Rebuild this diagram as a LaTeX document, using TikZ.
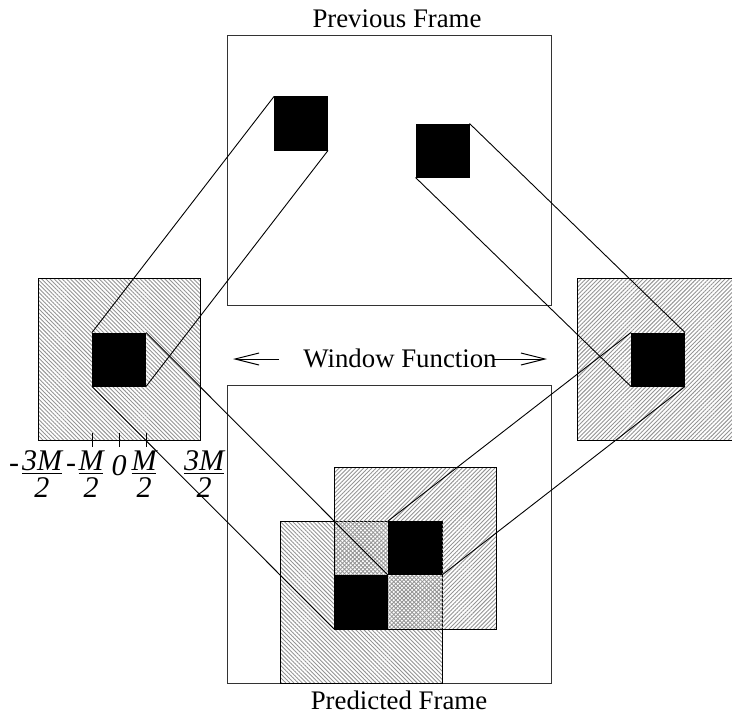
\documentclass[tikz,border=0pt]{standalone}
\usepackage{fontspec}
\setmainfont{Liberation Serif}
\usetikzlibrary{patterns.meta,arrows.meta}
\tikzset{
  frame/.style={draw=black!80, line width=0.5pt, inner sep=0pt, outer sep=0pt},
  blk/.style={fill=black, inner sep=0pt, outer sep=0pt, minimum size=27pt},
  winNW/.style={draw, line width=0.5pt, inner sep=0pt, outer sep=0pt, minimum size=81pt,
    pattern={Lines[angle=-45,distance=1.45pt,line width=0.45pt]}, pattern color=black!42},
  winNE/.style={draw, line width=0.5pt, inner sep=0pt, outer sep=0pt, minimum size=81pt,
    pattern={Lines[angle=45,distance=1.45pt,line width=0.45pt]}, pattern color=black!42},
  axlbl/.style={font=\fontsize{15}{16}\selectfont\itshape, inner sep=0pt, align=center},
  link/.style={line width=0.45pt},
  wfarrow/.style={-{Straight Barb[length=12pt,width=6pt]}, line width=0.5pt},
}
\newcommand\halffrac[1]{\underline{#1}\\[-2.5pt]2}
\begin{document}
\begin{tikzpicture}[x=0.5pt, y=-0.5pt, font=\fontsize{13.4}{16}\selectfont]
  \useasboundingbox (0,0) rectangle (732,717);
  \clip (0,0) rectangle (732,717);

  % Frames
  \node[frame, minimum width=162pt, minimum height=134.5pt] (prev) at (389,170.5) {};
  \node[frame, minimum width=162pt, minimum height=149pt] (pred) at (389,534) {};
  \node[anchor=base] (prevlbl) at (397,28) {Previous Frame};
  \node[anchor=base] (predlbl) at (399,709) {Predicted Frame};

  % Blocks of the previous frame
  \node[blk] (w1) at (301,123.5) {};
  \node[blk] (w2) at (442.5,150.5) {};

  % Windowed blocks
  \node[winNW] (winL) at (119,359) {};
  \node[blk] (sL) at (119,359.5) {};
  \node[winNE] (winR) at (658,359) {};
  \node[blk] (sR) at (658,359.5) {};

  % Overlapping windows in the predicted frame
  \node[winNW] (winB) at (361.5,602) {};
  \node[winNE] (winA) at (415.5,548) {};
  \node[blk] (pB) at (361,602) {};
  \node[blk] (pA) at (415,548) {};

  % Axis of the window
  \foreach \x in {92,119,146}
    \draw[line width=0.5pt] (\x,433) -- (\x,447);
  \node[axlbl] (lm3s) at (14,468) {-};
  \node[axlbl] (lm3) at (42,474) {\halffrac{3M}};
  \node[axlbl] (lm1s) at (71,468) {-};
  \node[axlbl] (lm1) at (91,474) {\halffrac{M}};
  \node[axlbl] (l0) at (119,466) {0};
  \node[axlbl] (lp1) at (144,474) {\halffrac{M}};
  \node[axlbl] (lp3) at (204,474) {\halffrac{3M}};

  % Window function
  \node[anchor=base] (wf) at (400,367) {Window Function};
  \coordinate (lt) at (279,359);
  \coordinate (lh) at (233,359);
  \coordinate (rt) at (493,359);
  \coordinate (rh) at (547,359);
  \draw[wfarrow] (lt) -- (lh);
  \draw[wfarrow] (rt) -- (rh);

  % Links between blocks
  \draw[link] (w1.north west) -- (sL.north west);
  \draw[link] (w1.south east) -- (sL.south east);
  \draw[link] (sL.north east) -- (pB.north east);
  \draw[link] (sL.south west) -- (pB.south west);
  \draw[link] (w2.north east) -- (sR.north east);
  \draw[link] (w2.south west) -- (sR.south west);
  \draw[link] (sR.north west) -- (pA.north west);
  \draw[link] (sR.south east) -- (pA.south east);
\end{tikzpicture}
\end{document}
